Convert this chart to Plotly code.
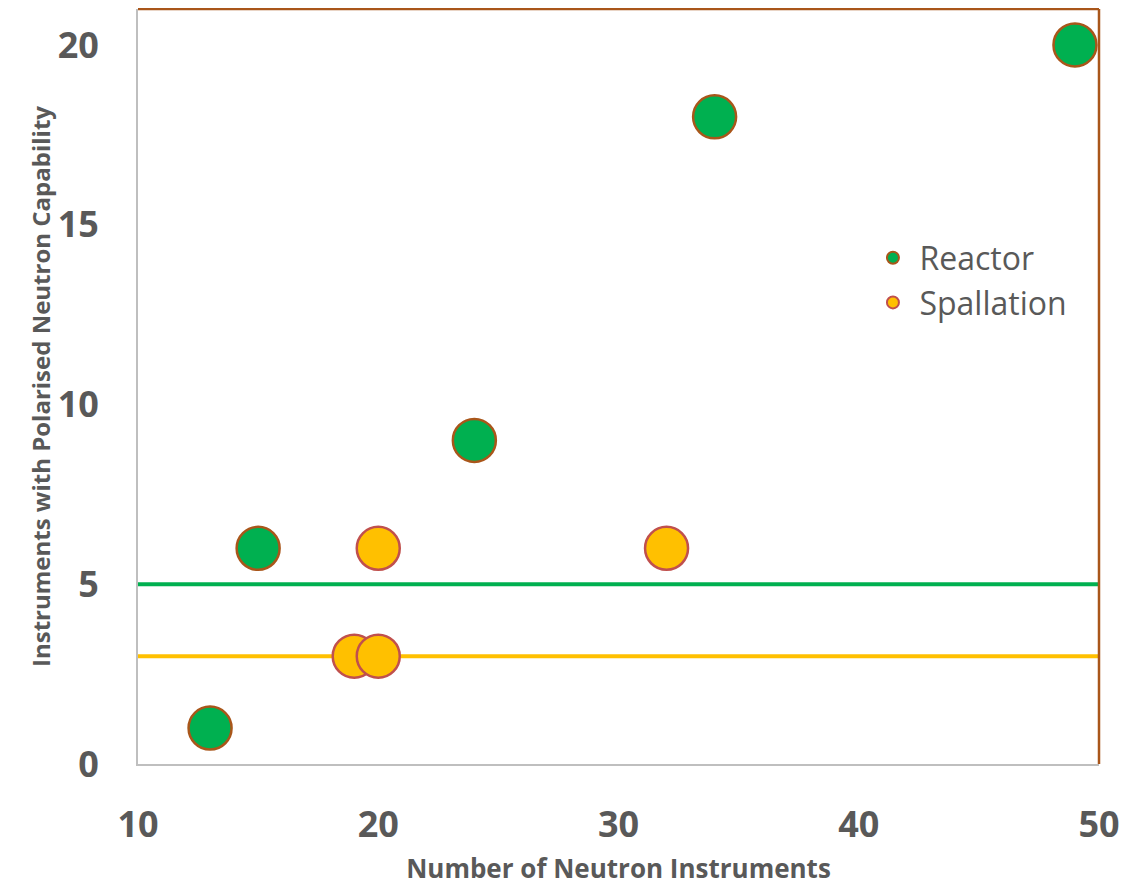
import plotly.graph_objects as go

reactor_x = [13, 15, 24, 34, 49]
reactor_y = [1, 6, 9, 18, 20]
spall_x = [19, 20, 20, 32]
spall_y = [3, 3, 6, 6]
reactor_threshold = 5
spall_threshold = 3
x_ticks = [10, 20, 30, 40, 50]
y_ticks = [0, 5, 10, 15, 20]

GREEN = "#00B050"
GOLD = "#FFC000"
BROWN = "#A9561A"
PINK = "#C0504D"
GRAY = "#595959"
FONT = "Open Sans"

fig = go.Figure()

fig.add_hline(y=reactor_threshold, line=dict(color=GREEN, width=4), layer="below")
fig.add_hline(y=spall_threshold, line=dict(color=GOLD, width=4), layer="below")

fig.add_trace(go.Scatter(
    x=reactor_x, y=reactor_y, mode="markers", name="Reactor",
    marker=dict(size=43, color=GREEN, line=dict(color=BROWN, width=2.5)),
    cliponaxis=False,
))
fig.add_trace(go.Scatter(
    x=spall_x, y=spall_y, mode="markers", name="Spallation",
    marker=dict(size=43, color=GOLD, line=dict(color=PINK, width=2.5)),
    cliponaxis=False,
))

# brown top and right border
fig.add_shape(type="line", xref="x domain", yref="y domain", x0=0, x1=1, y0=1, y1=1,
              line=dict(color=BROWN, width=2.5))
fig.add_shape(type="line", xref="x domain", yref="y domain", x0=1, x1=1, y0=0, y1=1,
              line=dict(color=BROWN, width=2.5))

fig.update_layout(
    width=1143, height=886,
    margin=dict(l=130, r=52, t=1, b=130),
    plot_bgcolor="white", paper_bgcolor="white",
    font=dict(family=FONT, color=GRAY),
    showlegend=True,
    legend=dict(
        x=0.758, y=0.7066, xanchor="left", yanchor="top",
        font=dict(family=FONT, size=32, color=GRAY),
        itemsizing="constant", itemwidth=43, bgcolor="rgba(0,0,0,0)",
        tracegroupgap=0,
    ),
    xaxis=dict(
        range=[10, 50], tickvals=x_ticks, showgrid=False, zeroline=False,
        showline=True, linecolor="#BFBFBF", linewidth=2,
        ticks="", ticklabelstandoff=28,
        tickfont=dict(family=FONT, size=36, color=GRAY, weight="bold"),
        title=dict(text="Number of Neutron Instruments", standoff=13,
                   font=dict(family=FONT, size=26, color=GRAY, weight="bold")),
    ),
    yaxis=dict(
        range=[0, 21], tickvals=y_ticks, showgrid=False, zeroline=False,
        showline=True, linecolor="#BFBFBF", linewidth=2,
        ticks="", ticklabelstandoff=30,
        tickfont=dict(family=FONT, size=36, color=GRAY, weight="bold"),
        title=dict(text="Instruments with Polarised Neutron Capability", standoff=0,
                   font=dict(family=FONT, size=24, color=GRAY, weight="bold")),
    ),
)

fig.write_html("out.html")
